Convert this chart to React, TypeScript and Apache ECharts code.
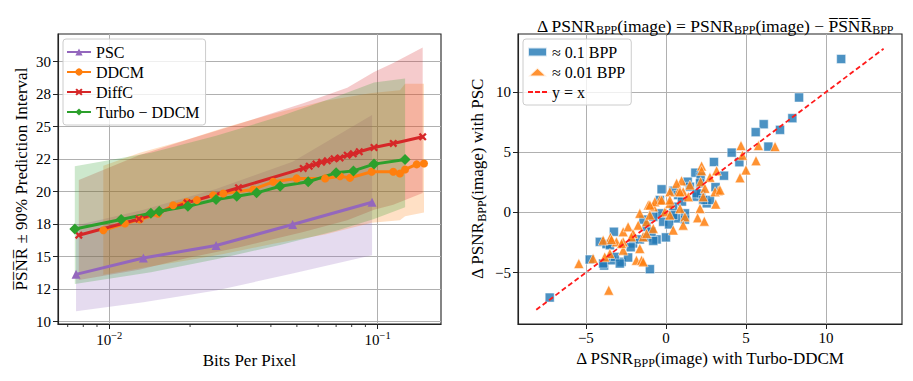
import React, { useEffect, useRef } from "react";
import * as echarts from "echarts";

// ---------- Left panel data ----------
const pscLine = [[0.00752, 13.64], [0.0134, 14.9], [0.025, 15.86], [0.0482, 17.47], [0.0953, 19.19]];
const ddcmLine = [
  [0.0095, 17.03], [0.01144, 17.55], [0.013, 17.86], [0.0152, 18.3], [0.0173, 18.96], [0.0194, 19.21],
  [0.0212, 19.35], [0.0244, 19.73], [0.0266, 19.86], [0.0344, 20.17], [0.0408, 20.76], [0.0499, 21.02],
  [0.0637, 21.02], [0.0724, 21.19], [0.0788, 21.06], [0.095, 21.53], [0.1143, 21.53], [0.121, 21.4],
  [0.1265, 21.71], [0.1397, 22.1], [0.1488, 22.17],
];
const diffcLine = [
  [0.0077, 16.65], [0.0129, 17.9], [0.0195, 19.14], [0.0303, 20.3], [0.0528, 21.79], [0.0556, 21.96],
  [0.0589, 22.12], [0.0618, 22.27], [0.0649, 22.37], [0.0688, 22.53], [0.0724, 22.6], [0.077, 22.81],
  [0.0811, 22.91], [0.0854, 23.07], [0.0969, 23.4], [0.1143, 23.71], [0.1471, 24.22],
];
const turboLine = [
  [0.00744, 17.13], [0.01107, 17.86], [0.01429, 18.34], [0.01535, 18.5], [0.01963, 18.88], [0.025, 19.4],
  [0.02985, 19.65], [0.0354, 19.91], [0.0433, 20.42], [0.0551, 20.76], [0.07, 21.45], [0.0812, 21.6],
  [0.0969, 22.12], [0.1265, 22.48],
];

// prediction interval bands
const pscBandX = [0.00752, 0.0134, 0.025, 0.0482, 0.0953];
const pscBandLo = [10.8, 11.5, 12.4, 13.7, 15.1];
const pscBandHi = [17.4, 18.6, 20.2, 22.3, 25.9];
const ddcmBandX = [0.0095, 0.013, 0.0194, 0.0266, 0.0408, 0.0637, 0.095, 0.121, 0.1265, 0.1488];
const ddcmBandLo = [13.6, 14.1, 14.7, 15.2, 16.0, 16.7, 17.6, 17.8, 18.1, 18.4];
const ddcmBandHi = [22.0, 23.0, 24.0, 24.9, 26.0, 27.0, 27.6, 27.8, 28.3, 28.3];
const diffcBandX = [0.0077, 0.0129, 0.0195, 0.0303, 0.0528, 0.077, 0.0969, 0.1143, 0.1471];
const diffcBandLo = [13.2, 14.0, 14.9, 15.7, 16.9, 17.8, 18.6, 19.0, 19.9];
const diffcBandHi = [20.9, 22.8, 24.0, 25.2, 26.8, 28.0, 29.2, 29.9, 31.1];
const turboBandX = [0.00744, 0.0143, 0.025, 0.0433, 0.07, 0.0969, 0.1265];
const turboBandLo = [12.9, 13.8, 14.8, 15.9, 17.0, 17.9, 18.8];
const turboBandHi = [21.96, 23.0, 24.3, 25.8, 27.3, 28.4, 28.7];

const leftYTicks = [10, 12.5, 15, 17.5, 20, 22.5, 25, 27.5, 30];
const leftXTicks = [0.01, 0.1];
const leftXMinorTicks = [0.007, 0.008, 0.009, 0.02, 0.03, 0.04, 0.05, 0.06, 0.07, 0.08, 0.09];

// ---------- Right panel data ----------
const bpp01 = [
  [10.95, 12.75], [8.32, 9.55], [7.9, 7.83], [6.11, 7.33], [5.61, 6.67], [7.13, 6.86], [6.4, 5.47],
  [4.11, 4.97], [4.59, 4.17], [3.0, 4.19], [3.63, 3.05], [1.84, 3.3], [2.17, 2.97], [1.36, 2.55],
  [-0.27, 1.92], [0.46, 1.8], [-7.26, -7.08], [-4.76, -3.92], [-3.86, -4.42], [-4.13, -2.45],
  [-3.71, -2.64], [-3.25, -1.61], [-3.4, -3.98], [-2.77, -4.11], [-2.36, -3.75], [-1.0, -4.72],
  [-2.05, -2.58], [-1.63, -2.25], [-1.21, -2.08], [-0.58, -2.25], [0.0, -2.08], [-0.38, -0.08],
  [0.67, -0.5], [1.92, 1.3], [2.2, 1.55], [2.55, 0.75], [2.75, 1.03], [1.5, 2.13], [-1.21, -1.2],
  [0.46, 0.47], [-0.79, -0.37], [-3.5, -2.73], [-3.19, -3.7], [-2.88, -4.25], [-0.79, -2.37],
  [-3.92, -4.25], [2.13, 2.42], [0.77, 1.44], [1.92, 1.58], [2.33, 1.03], [1.19, -0.08],
  [0.46, -0.22], [-0.17, -0.78], [1.19, -0.6], [-0.38, 1.03], [-1.4, -0.6], [-2.2, -2.9],
  [0.2, -1.0], [1.0, 0.9], [-0.9, -1.6], [3.1, 2.1],
];
const bpp001 = [
  [4.69, 5.55], [5.78, 5.55], [6.82, 5.47], [4.78, 4.75], [5.63, 4.3], [5.0, 3.53], [4.63, 2.88],
  [3.17, 3.47], [2.75, 2.92], [2.23, 3.86], [2.23, 3.47], [2.17, 2.55], [0.98, 2.63], [1.5, 2.28],
  [2.44, 2.0], [3.27, 1.8], [-5.44, -4.25], [-3.57, -6.47], [-4.55, -3.83], [-3.5, -3.42],
  [-3.46, -2.08], [-3.09, -2.45], [-2.67, -2.45], [-2.67, -1.61], [-2.67, -3.14], [-2.36, -1.2],
  [-1.84, -3.98], [-1.52, -3.98], [-1.63, -3.0], [-1.63, -0.08], [-1.21, -0.78], [-1.1, 0.61],
  [-0.79, 0.47], [-0.79, -1.33], [-0.38, 1.03], [-0.06, 0.05], [0.25, 0.75], [0.46, -1.47],
  [0.88, 0.33], [1.19, -0.37], [1.08, -1.06], [2.33, 1.3], [2.13, 0.33], [1.98, -0.45],
  [2.4, -0.73], [3.07, 1.72], [3.38, 1.86], [3.11, 0.69], [0.77, 1.72], [-2.05, -1.75],
  [-1.42, -2.03], [-3.92, -2.31], [-1.21, -1.75], [-1.0, -0.22], [-1.73, -1.06], [-3.4, -2.25],
  [-2.77, -2.58], [-2.15, -2.03], [-3.82, -3.7], [-1.42, -4.11], [0.25, -0.22], [0.67, 2.42],
  [0.25, 1.72], [-0.69, 0.89], [-1.0, 0.61], [-0.27, 1.03], [1.08, 1.72], [0.88, 1.72],
  [0.25, 1.03], [1.4, 1.3],
];
const identityLine = [[-8.1, -8.1], [13.6, 13.6]];
const rightTicks = [-5, 0, 5, 10];

const FONT = "'Liberation Serif', serif";
const C_PURPLE = "#9467bd";
const C_ORANGE = "#ff7f0e";
const C_RED = "#d62728";
const C_GREEN = "#2ca02c";
const C_BLUE = "#1f77b4";
const X_SYMBOL = "path://M2,0 L5,3 L8,0 L10,2 L7,5 L10,8 L8,10 L5,7 L2,10 L0,8 L3,5 L0,2 Z";
const DASH_ICON = "path://M0,0h5v2h-5z M7,0h5v2h-5z M14,0h5v2h-5z";

const roundHalfEven = (v: number) => {
  const f = Math.floor(v);
  const d = v - f;
  if (Math.abs(d - 0.5) < 1e-9) return f % 2 === 0 ? f : f + 1;
  return Math.round(v);
};
const fmtMinus = (v: number) => (v < 0 ? "\u2212" + Math.abs(v) : String(v));

const subStyle = { fontFamily: FONT, fontSize: 12, padding: [9, 0, 0, 0], color: "#000" };
const NAME_SIZE = 17;

function band(color: string, xs: number[], lo: number[], hi: number[]) {
  return {
    type: "custom",
    xAxisIndex: 0,
    yAxisIndex: 0,
    silent: true,
    clip: true,
    z: 1,
    data: xs.map((x, i) => [x, lo[i], hi[i]]),
    encode: { x: 0, y: [1, 2] },
    renderItem: (params: any, api: any) => {
      if (params.dataIndex !== 0) return null;
      const pts: number[][] = [];
      for (let i = 0; i < xs.length; i++) pts.push(api.coord([xs[i], hi[i]]));
      for (let i = xs.length - 1; i >= 0; i--) pts.push(api.coord([xs[i], lo[i]]));
      return { type: "polygon", shape: { points: pts }, style: { fill: color, opacity: 0.24 } };
    },
  };
}

function lineSeries(name: string, color: string, data: number[][], symbol: string, size: number) {
  return {
    type: "line",
    name,
    xAxisIndex: 0,
    yAxisIndex: 0,
    data,
    symbol,
    symbolSize: size,
    showSymbol: true,
    lineStyle: { color, width: 3 },
    itemStyle: { color },
    z: 5,
  };
}

const axisCommon = {
  axisLine: { show: true, onZero: false, lineStyle: { color: "#222", width: 1.1 } },
  splitLine: { show: true, lineStyle: { color: "#b0b0b0", width: 1 } },
};

const legendCommon = {
  orient: "vertical",
  itemGap: 4,
  itemTextGap: 7,
  backgroundColor: "rgba(255,255,255,0.8)",
  borderColor: "#cccccc",
  borderWidth: 1,
  borderRadius: 3,
  textStyle: { fontFamily: FONT, fontSize: 16, color: "#000" },
};

export default function App() {
  const ref = useRef<HTMLDivElement>(null);
  useEffect(() => {
    if (!ref.current) return;
    const chart = echarts.init(ref.current, null, { renderer: "svg" });
    const option: any = {
      animation: false,
      backgroundColor: "#fff",
      title: {
        text: "\u0394 PSNR{sub|BPP}(image) = PSNR{sub|BPP}(image) \u2212 P\u0305S\u0305N\u0305R\u0305{sub|BPP}",
        left: 710,
        top: 10,
        textAlign: "center",
        textStyle: {
          fontFamily: FONT,
          fontSize: 17.5,
          fontWeight: "normal",
          color: "#000",
          rich: { sub: subStyle },
        },
      },
      grid: [
        { left: 58, top: 34, width: 383, height: 290, show: true, borderColor: "#222", borderWidth: 1.1, backgroundColor: "transparent" },
        { left: 518, top: 34, width: 384, height: 290, show: true, borderColor: "#222", borderWidth: 1.1, backgroundColor: "transparent" },
      ],
      legend: [
        {
          ...legendCommon,
          data: ["PSC", "DDCM", "DiffC", "Turbo \u2212 DDCM"],
          left: 63,
          top: 39,
          itemWidth: 24,
          itemHeight: 9,
          padding: [5, 6, 5, 3],
        },
        {
          ...legendCommon,
          data: [
            { name: "\u2248 0.1 BPP", icon: "rect" },
            { name: "\u2248 0.01 BPP", icon: "triangle" },
            { name: "y = x", icon: DASH_ICON },
          ],
          left: 523,
          top: 39,
          itemWidth: 19,
          itemHeight: 9,
          padding: [5, 6, 5, 4],
        },
      ],
      xAxis: [
        {
          type: "log",
          gridIndex: 0,
          logBase: 10,
          min: 0.006441,
          max: 0.17214,
          name: "Bits Per Pixel",
          nameLocation: "middle",
          nameGap: 24,
          nameTextStyle: { fontFamily: FONT, fontSize: NAME_SIZE, color: "#000" },
          ...axisCommon,
          axisTick: { show: true, customValues: leftXTicks, length: 5, lineStyle: { color: "#222" } },
          axisLabel: {
            customValues: leftXTicks,
            margin: 6,
            fontFamily: FONT,
            fontSize: 15,
            color: "#000",
            formatter: (v: number) => "10{sup|\u2212" + Math.round(-Math.log10(v)) + "}",
            rich: { sup: { fontFamily: FONT, fontSize: 10.5, padding: [0, 0, 9, 0], color: "#000" } },
          },
        },
        {
          type: "value",
          gridIndex: 1,
          min: -9.24,
          max: 14.75,
          name: "\u0394 PSNR{sub|BPP}(image) with Turbo-DDCM",
          nameLocation: "middle",
          nameGap: 24,
          nameTextStyle: { fontFamily: FONT, fontSize: NAME_SIZE, color: "#000", rich: { sub: subStyle } },
          ...axisCommon,
          axisTick: { show: true, customValues: rightTicks, length: 5, lineStyle: { color: "#222" } },
          axisLabel: { customValues: rightTicks, margin: 6, fontFamily: FONT, fontSize: 15, color: "#000", formatter: fmtMinus },
        },
      ],
      yAxis: [
        {
          type: "value",
          gridIndex: 0,
          min: 9.82,
          max: 32.13,
          name: "P\u0305S\u0305N\u0305R\u0305 \u00b1 90% Prediction Interval",
          nameLocation: "middle",
          nameRotate: 90,
          nameGap: 28,
          nameTextStyle: { fontFamily: FONT, fontSize: NAME_SIZE, color: "#000" },
          ...axisCommon,
          axisTick: { show: true, customValues: leftYTicks, length: 5, lineStyle: { color: "#222" } },
          axisLabel: {
            customValues: leftYTicks,
            margin: 7,
            fontFamily: FONT,
            fontSize: 15,
            color: "#000",
            formatter: (v: number) => String(roundHalfEven(v)),
          },
        },
        {
          type: "value",
          gridIndex: 1,
          min: -9.28,
          max: 14.83,
          name: "\u0394 PSNR{sub|BPP}(image) with PSC",
          nameLocation: "middle",
          nameRotate: 90,
          nameGap: 30,
          nameTextStyle: { fontFamily: FONT, fontSize: NAME_SIZE, color: "#000", rich: { sub: subStyle } },
          ...axisCommon,
          axisTick: { show: true, customValues: rightTicks, length: 5, lineStyle: { color: "#222" } },
          axisLabel: { customValues: rightTicks, margin: 7, fontFamily: FONT, fontSize: 15, color: "#000", formatter: fmtMinus },
        },
      ],
      series: [
        band(C_PURPLE, pscBandX, pscBandLo, pscBandHi),
        band(C_ORANGE, ddcmBandX, ddcmBandLo, ddcmBandHi),
        band(C_RED, diffcBandX, diffcBandLo, diffcBandHi),
        band(C_GREEN, turboBandX, turboBandLo, turboBandHi),
        lineSeries("PSC", C_PURPLE, pscLine, "triangle", 9),
        lineSeries("DDCM", C_ORANGE, ddcmLine, "circle", 8),
        lineSeries("DiffC", C_RED, diffcLine, X_SYMBOL, 8),
        lineSeries("Turbo \u2212 DDCM", C_GREEN, turboLine, "diamond", 11),
        {
          type: "custom",
          xAxisIndex: 0,
          yAxisIndex: 0,
          silent: true,
          clip: false,
          data: leftXMinorTicks.map((v) => [v, 9.82]),
          encode: { x: 0, y: 1 },
          renderItem: (params: any, api: any) => {
            const p = api.coord([api.value(0), api.value(1)]);
            return {
              type: "line",
              shape: { x1: p[0], y1: p[1], x2: p[0], y2: p[1] + 3 },
              style: { stroke: "#222", lineWidth: 0.9 },
            };
          },
        },
        {
          type: "scatter",
          name: "\u2248 0.1 BPP",
          xAxisIndex: 1,
          yAxisIndex: 1,
          data: bpp01,
          symbol: "rect",
          symbolSize: 9,
          itemStyle: { color: C_BLUE, opacity: 0.8, borderColor: "#fff", borderWidth: 0.6 },
          z: 3,
        },
        {
          type: "scatter",
          name: "\u2248 0.01 BPP",
          xAxisIndex: 1,
          yAxisIndex: 1,
          data: bpp001,
          symbol: "triangle",
          symbolSize: 10,
          itemStyle: { color: C_ORANGE, opacity: 0.85, borderColor: "#fff", borderWidth: 0.6 },
          z: 4,
        },
        {
          type: "line",
          name: "y = x",
          xAxisIndex: 1,
          yAxisIndex: 1,
          data: identityLine,
          symbol: "none",
          lineStyle: { color: "#ff1a1a", width: 1.8, type: [5, 3] },
          itemStyle: { color: "#ff1a1a" },
          z: 6,
        },
      ],
    };
    chart.setOption(option);
    return () => chart.dispose();
  }, []);
  return (
    <div
      ref={ref}
      style={{ position: "fixed", left: 0, top: 0, width: 913, height: 381, background: "#fff" }}
    />
  );
}
